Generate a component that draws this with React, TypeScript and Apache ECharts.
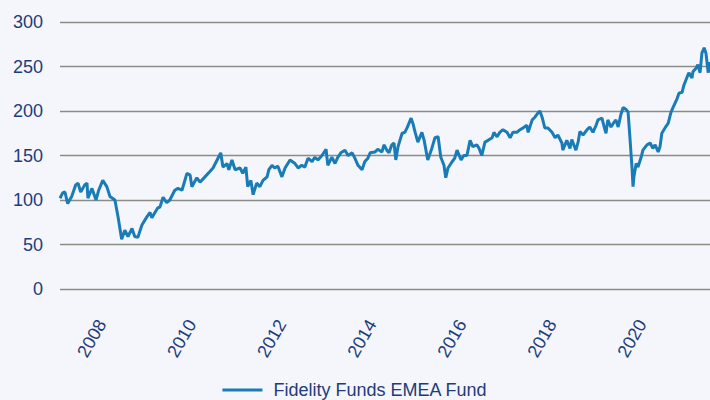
import React, { useEffect, useRef } from "react";
import * as echarts from "echarts";

const seriesName = "Fidelity Funds EMEA Fund";
const yTicks = [0, 50, 100, 150, 200, 250, 300];
const yearLabels = [2008, 2010, 2012, 2014, 2016, 2018, 2020];

const t = [
  2007.07, 2007.13, 2007.18, 2007.24, 2007.33, 2007.42, 2007.47, 2007.53, 2007.62, 2007.67,
  2007.69, 2007.78, 2007.87, 2007.93, 2008.02, 2008.11, 2008.18, 2008.29, 2008.36, 2008.44,
  2008.51, 2008.58, 2008.67, 2008.73, 2008.80, 2008.89, 2009.0, 2009.07, 2009.11, 2009.18,
  2009.24, 2009.29, 2009.36, 2009.44, 2009.51, 2009.62, 2009.69, 2009.78, 2009.89, 2009.96,
  2010.0, 2010.11, 2010.18, 2010.29, 2010.4, 2010.47, 2010.56, 2010.64, 2010.69, 2010.78,
  2010.82, 2010.89, 2010.96, 2011.07, 2011.13, 2011.2, 2011.24, 2011.31, 2011.36, 2011.44,
  2011.51, 2011.58, 2011.67, 2011.71, 2011.78, 2011.84, 2011.91, 2012.0, 2012.07, 2012.18,
  2012.29, 2012.36, 2012.44, 2012.51, 2012.58, 2012.67, 2012.73, 2012.8, 2012.89, 2012.98,
  2013.02, 2013.11, 2013.18, 2013.24, 2013.31, 2013.4, 2013.47, 2013.56, 2013.62, 2013.69,
  2013.78, 2013.84, 2013.91, 2013.96, 2014.07, 2014.13, 2014.22, 2014.27, 2014.33, 2014.38,
  2014.44, 2014.49, 2014.53, 2014.58, 2014.67, 2014.73, 2014.78, 2014.87, 2014.91, 2014.96,
  2015.02, 2015.11, 2015.16, 2015.24, 2015.33, 2015.4, 2015.47, 2015.53, 2015.6, 2015.64,
  2015.69, 2015.78, 2015.84, 2015.89, 2015.98, 2016.04, 2016.11, 2016.18, 2016.24, 2016.33,
  2016.38, 2016.44, 2016.51, 2016.58, 2016.67, 2016.71, 2016.78, 2016.84, 2016.91, 2017.0,
  2017.07, 2017.13, 2017.22, 2017.29, 2017.36, 2017.44, 2017.47, 2017.56, 2017.62, 2017.69,
  2017.73, 2017.78, 2017.84, 2017.91, 2018.0, 2018.07, 2018.13, 2018.22, 2018.24, 2018.33,
  2018.4, 2018.44, 2018.53, 2018.58, 2018.62, 2018.69, 2018.78, 2018.84, 2018.91, 2018.98,
  2019.02, 2019.11, 2019.16, 2019.2, 2019.24, 2019.31, 2019.36, 2019.42, 2019.47, 2019.53,
  2019.58, 2019.64, 2019.69, 2019.73, 2019.78, 2019.8, 2019.82, 2019.87, 2019.91, 2019.98,
  2020.02, 2020.11, 2020.18, 2020.24, 2020.29, 2020.36, 2020.4, 2020.44, 2020.51, 2020.58,
  2020.64, 2020.69, 2020.78, 2020.82, 2020.89, 2020.93, 2021.0, 2021.04, 2021.11, 2021.13,
  2021.2, 2021.24, 2021.29, 2021.33, 2021.38, 2021.42, 2021.47, 2021.49, 2021.51,
];

const v = [
  102, 108, 109, 96, 104, 117, 119, 109, 117, 119,
  102, 113, 100, 111, 122, 115, 104, 100, 81, 56,
  66, 59, 68, 59, 58, 72, 81, 86, 80, 86,
  91, 92, 103, 97, 100, 111, 113, 111, 130, 128,
  115, 125, 120, 126, 132, 136, 145, 153, 137, 141,
  134, 145, 134, 136, 130, 137, 115, 122, 106, 119,
  115, 122, 126, 134, 139, 136, 138, 126, 136, 145,
  141, 136, 139, 137, 147, 143, 148, 145, 150, 157,
  139, 148, 141, 148, 153, 156, 150, 153, 147, 139,
  134, 143, 147, 153, 154, 157, 154, 162, 156, 153,
  162, 164, 145, 160, 175, 176, 181, 192, 186, 176,
  165, 176, 167, 145, 158, 170, 171, 148, 139, 125,
  136, 143, 147, 156, 145, 150, 150, 167, 160, 162,
  158, 150, 165, 167, 170, 176, 171, 176, 179, 176,
  170, 176, 176, 179, 181, 184, 176, 190, 193, 198,
  200, 193, 181, 181, 176, 170, 173, 164, 156, 167,
  158, 168, 156, 165, 177, 173, 179, 182, 176, 184,
  190, 192, 182, 175, 190, 182, 186, 190, 182, 196,
  204, 202, 199, 171, 134, 115, 126, 141, 137, 148,
  156, 162, 164, 158, 162, 154, 160, 175, 181, 186,
  198, 204, 214, 220, 221, 229, 238, 243, 237, 244,
  248, 252, 243, 265, 271, 265, 243, 255, 243,
];

const navy = "#1d3c7c";
const font = "'Liberation Sans', Arial, sans-serif";

export default function App() {
  const ref = useRef<HTMLDivElement>(null);
  useEffect(() => {
    if (!ref.current) return;
    const chart = echarts.init(ref.current, undefined, { renderer: "svg" });
    const data = t.map((x, i) => [x, v[i]]);
    chart.setOption({
      animation: false,
      backgroundColor: "#f4f6fb",
      grid: { left: 60, right: 0, top: 22, bottom: 111, containLabel: false },
      legend: {
        data: [seriesName],
        left: "center",
        top: 376,
        icon: "rect",
        itemWidth: 40,
        itemHeight: 3,
        textStyle: { color: navy, fontSize: 18, fontFamily: font, padding: [0, 0, 0, 6] },
      },
      xAxis: {
        type: "value",
        min: 2007.07,
        max: 2021.51,
        axisLine: { show: false },
        axisTick: { show: false },
        splitLine: { show: false },
        axisLabel: {
          customValues: yearLabels,
          rotate: 60,
          margin: 32,
          color: navy,
          fontSize: 18,
          fontFamily: font,
          formatter: (val: number) => String(Math.round(val)),
        },
      },
      yAxis: {
        type: "value",
        min: 0,
        max: 300,
        interval: 50,
        axisLine: { show: false },
        axisTick: { show: false },
        axisLabel: {
          margin: 17,
          color: navy,
          fontSize: 18,
          fontFamily: font,
          customValues: yTicks,
        },
        splitLine: { lineStyle: { color: "#8c8b84", width: 1.3 } },
      },
      series: [
        {
          name: seriesName,
          type: "line",
          data,
          showSymbol: false,
          symbol: "none",
          lineStyle: { color: "#1a7cb6", width: 3 },
          itemStyle: { color: "#1a7cb6" },
        },
      ],
    });
    return () => chart.dispose();
  }, []);
  return (
    <div
      ref={ref}
      style={{ position: "fixed", left: 0, top: 0, width: 710, height: 400 }}
    />
  );
}
